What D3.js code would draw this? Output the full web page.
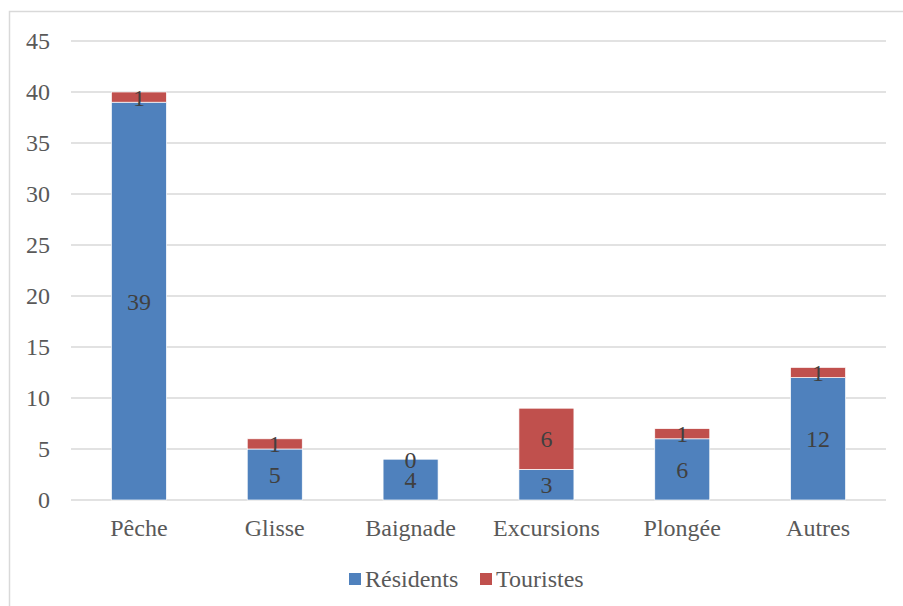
<!DOCTYPE html>
<html>
<head>
<meta charset="utf-8">
<script src="https://cdn.jsdelivr.net/npm/d3@7"></script>
<style>
  body { margin: 0; background: #fff; }
</style>
</head>
<body>
<script>
var categories = ["Pêche", "Glisse", "Baignade", "Excursions", "Plongée", "Autres"];
var residents = [39, 5, 4, 3, 6, 12];
var touristes = [1, 1, 0, 6, 1, 1];
var seriesNames = ["Résidents", "Touristes"];
var seriesColors = ["#4F81BD", "#C0504D"];
var yTicks = [0, 5, 10, 15, 20, 25, 30, 35, 40, 45];

var FONT = "'Liberation Serif'";

function init(){
    var w = 903;
    var h = 606;
    var left = 71, right = 886, top = 41, bottom = 500;

    var svg = d3.select("body")
                .append("svg")
                .attr("width", w)
                .attr("height", h)
                .style("font-family", FONT);

    // chart border (top and left visible)
    svg.append("path")
        .attr("d", "M9.5," + h + "V11.5H" + w)
        .attr("fill", "none")
        .attr("stroke", "#D9D9D9")
        .attr("stroke-width", 1.5);

    var xScale = d3.scaleBand()
                    .domain(categories)
                    .range([left, right])
                    .paddingInner(0.595)
                    .paddingOuter(0.2975);

    var yScale = d3.scaleLinear()
                    .domain([0, 45])
                    .range([bottom, top]);

    // gridlines
    svg.selectAll("line.grid")
        .data(yTicks)
        .enter()
        .append("line")
        .attr("class", "grid")
        .attr("x1", left)
        .attr("x2", right)
        .attr("y1", function(d) { return yScale(d); })
        .attr("y2", function(d) { return yScale(d); })
        .attr("stroke", "#D9D9D9")
        .attr("stroke-width", 1.5);

    // y axis labels
    var yAxis = d3.axisLeft(yScale).tickValues(yTicks).tickSize(0).tickPadding(21);
    var ya = svg.append("g").attr("transform", "translate(" + left + ",0)").call(yAxis);
    ya.attr("font-family", null).attr("font-size", null);
    ya.select(".domain").remove();
    ya.selectAll("text")
        .style("font-family", FONT)
        .style("font-size", "24px")
        .attr("fill", "#595959");

    // x axis labels
    var xAxis = d3.axisBottom(xScale).tickSize(0).tickPadding(19);
    var xa = svg.append("g").attr("transform", "translate(0," + bottom + ")").call(xAxis);
    xa.attr("font-family", null).attr("font-size", null);
    xa.select(".domain").remove();
    xa.selectAll("text")
        .style("font-family", FONT)
        .style("font-size", "24px")
        .attr("fill", "#595959");

    var table = categories.map(function(c, i) {
        return { cat: c, "Résidents": residents[i], "Touristes": touristes[i] };
    });
    var stacked = d3.stack().keys(seriesNames)(table);

    var groups = svg.selectAll("g.series")
        .data(stacked)
        .enter()
        .append("g")
        .attr("class", "series")
        .attr("fill", function(d, i) { return seriesColors[i]; });

    groups.selectAll("rect")
        .data(function(d) { return d; })
        .enter()
        .append("rect")
        .attr("x", function(d) { return xScale(d.data.cat); })
        .attr("y", function(d) { return yScale(d[1]); })
        .attr("width", xScale.bandwidth())
        .attr("height", function(d) { return yScale(d[0]) - yScale(d[1]); })
        .attr("stroke", "#fff")
        .attr("stroke-width", 0.7);

    // data labels
    groups.selectAll("text")
        .data(function(d) { return d; })
        .enter()
        .append("text")
        .text(function(d) { return d[1] - d[0]; })
        .attr("x", function(d) { return xScale(d.data.cat) + xScale.bandwidth() / 2; })
        .attr("y", function(d) { return (yScale(d[0]) + yScale(d[1])) / 2; })
        .attr("dy", "0.35em")
        .attr("text-anchor", "middle")
        .style("font-size", "24px")
        .attr("fill", "#404040");

    // legend
    var legendX = [349, 480];
    var legend = svg.selectAll("g.legend")
        .data(seriesNames)
        .enter()
        .append("g")
        .attr("class", "legend")
        .attr("transform", function(d, i) { return "translate(" + legendX[i] + ",573)"; });

    legend.append("rect")
        .attr("width", 12)
        .attr("height", 12)
        .attr("fill", function(d, i) { return seriesColors[i]; });

    legend.append("text")
        .text(function(d) { return d; })
        .attr("x", 16)
        .attr("y", 6)
        .attr("dy", "0.35em")
        .style("font-size", "24px")
        .attr("fill", "#595959");
}

window.onload = init;
</script>
</body>
</html>
